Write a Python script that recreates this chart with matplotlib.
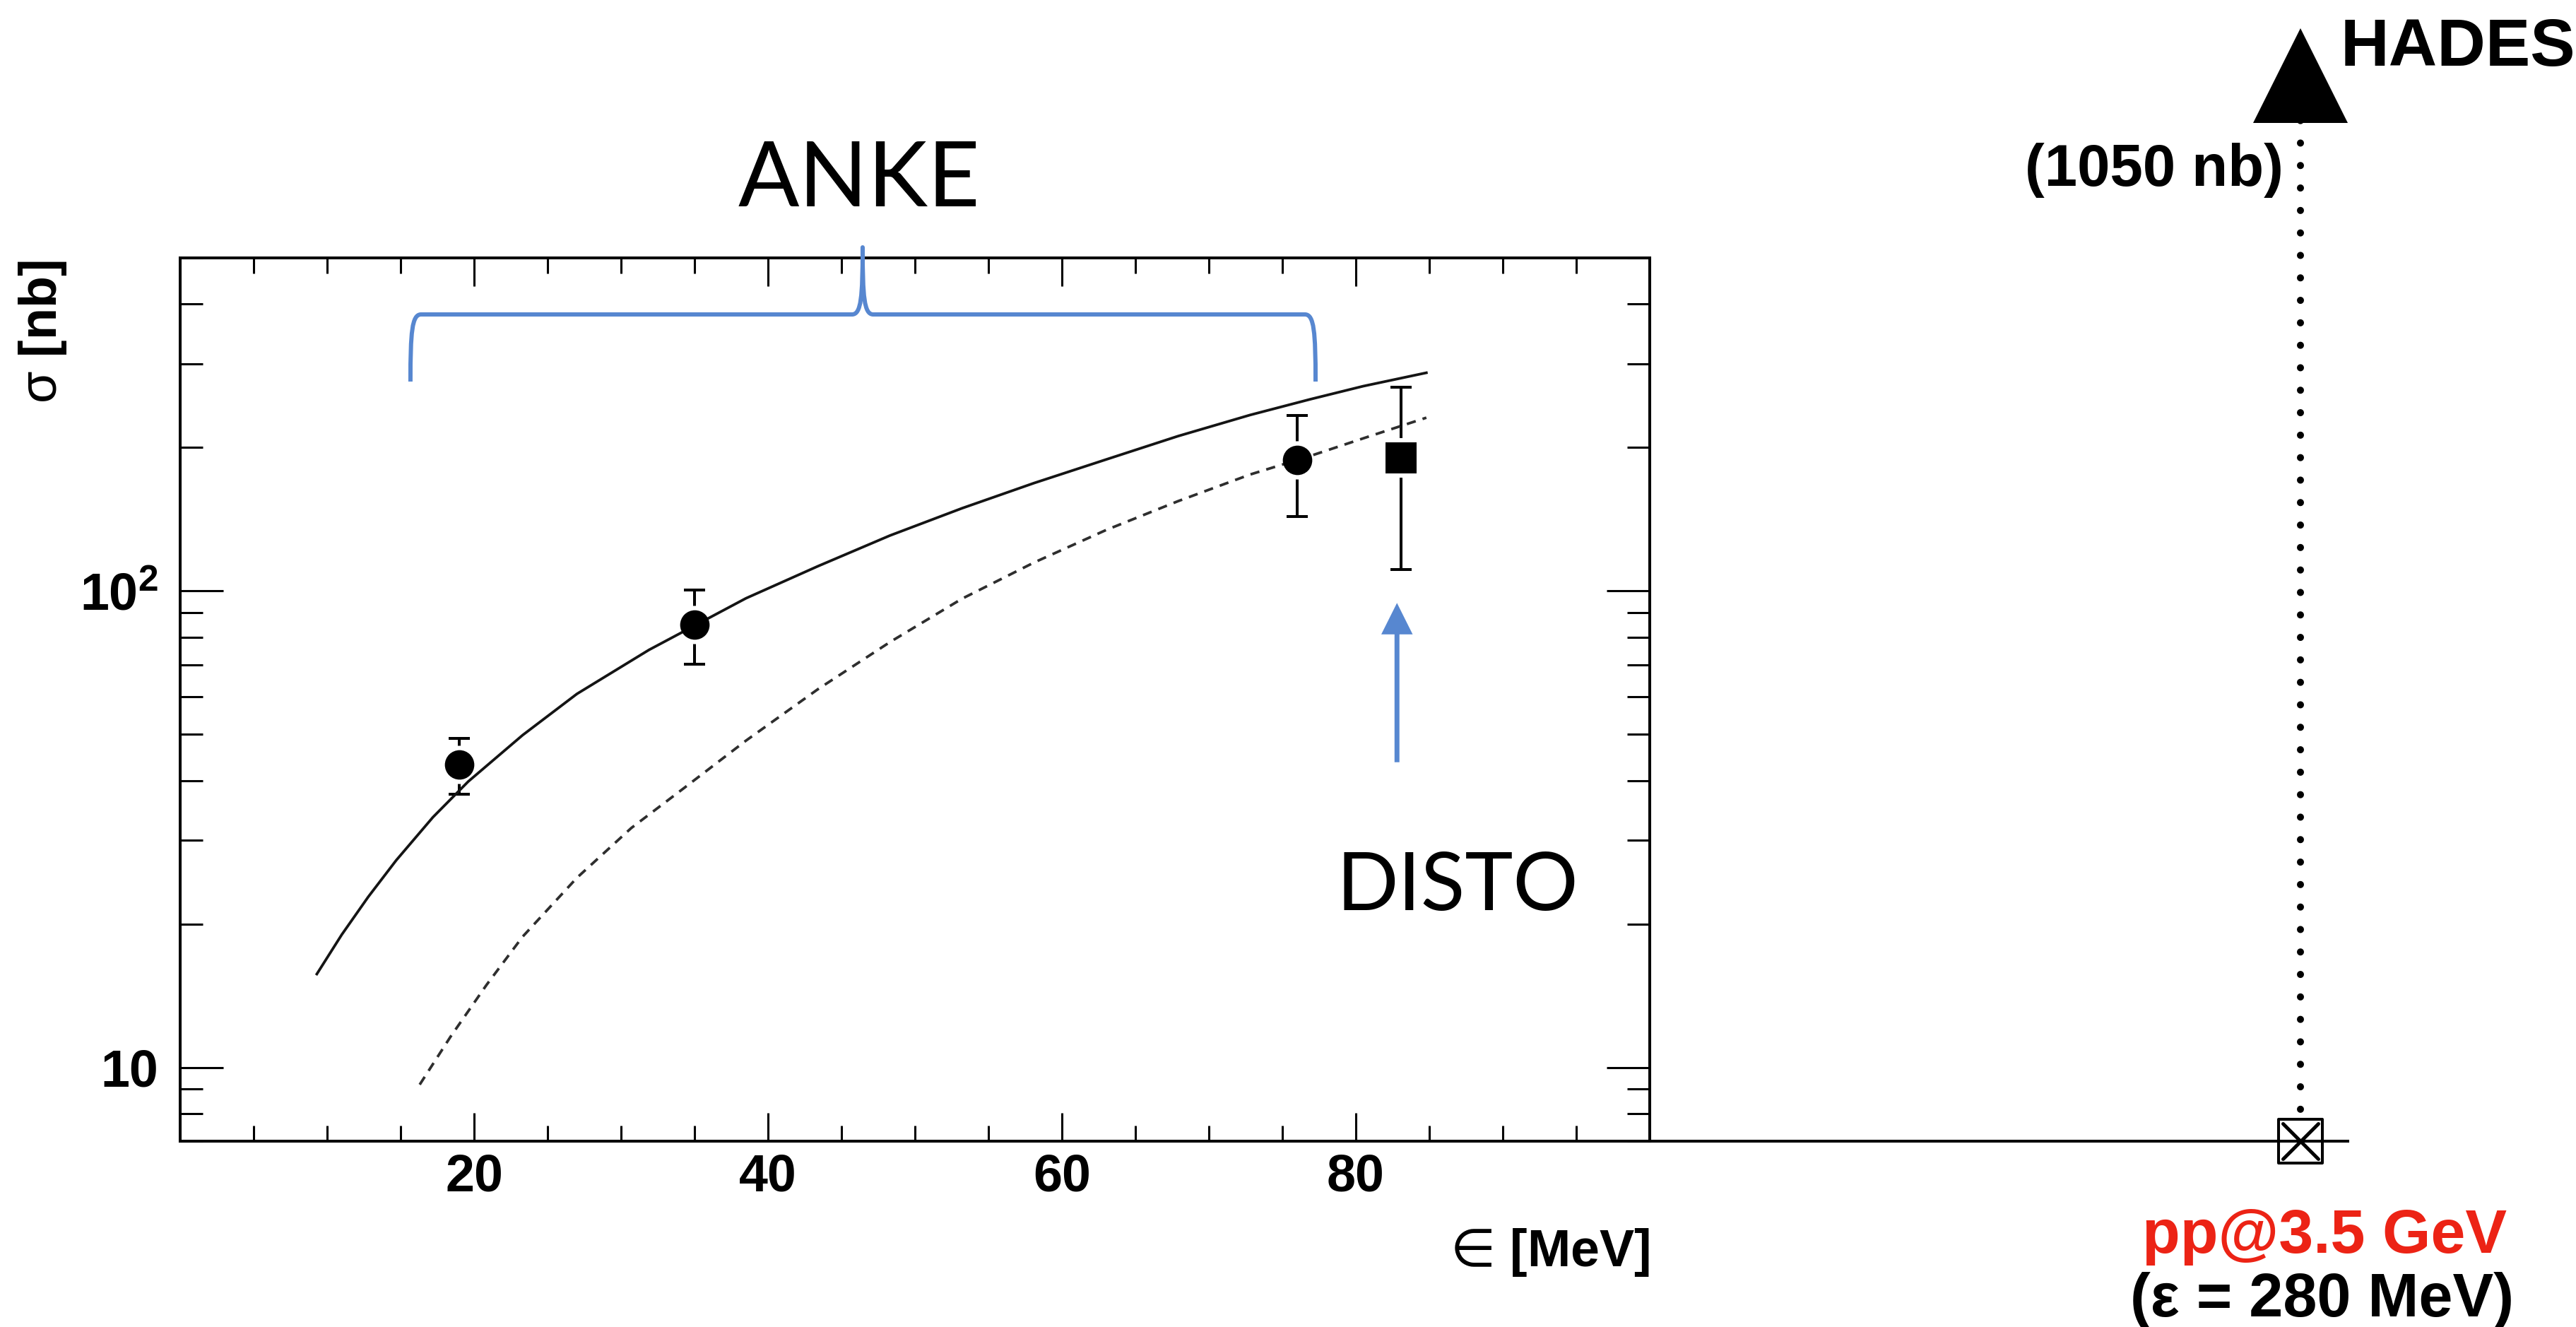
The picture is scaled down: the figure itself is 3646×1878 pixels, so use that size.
import matplotlib
matplotlib.use("Agg")
import matplotlib.pyplot as plt
from matplotlib.path import Path
from matplotlib.patches import PathPatch
from matplotlib.markers import MarkerStyle
from matplotlib.ticker import FixedLocator, FixedFormatter, NullFormatter

plt.rcParams['font.family'] = ['Liberation Sans', 'DejaVu Sans']
plt.rcParams['font.weight'] = 'bold'
plt.rcParams['axes.labelweight'] = 'bold'
plt.rcParams['mathtext.fontset'] = 'custom'
plt.rcParams['mathtext.rm'] = 'Liberation Sans:bold'
plt.rcParams['mathtext.it'] = 'Liberation Sans:bold'
plt.rcParams['mathtext.bf'] = 'Liberation Sans:bold'
plt.rcParams['mathtext.sf'] = 'Liberation Sans:normal'
plt.rcParams['mathtext.tt'] = 'DejaVu Sans:normal'

# ANKE data points (excess energy in MeV, cross section in nb)
anke_eps = [19, 35, 76]
anke_sigma = [43.2, 84.9, 188.0]
anke_err_lo = [5.7, 14.8, 44.9]
anke_err_hi = [5.9, 15.4, 45.7]

# DISTO point
disto_eps = [83.1]
disto_sigma = [190.0]
disto_err_lo = [79.0]
disto_err_hi = [78.0]

# full calculation (solid)
fit_eps = [9.3, 11.0, 12.8, 14.7, 17.2, 19.6, 23.3, 27.0, 31.9, 38.5,
           43.4, 48.3, 53.2, 58.1, 63.0, 67.9, 72.8, 76.9, 80.5, 84.8]
fit_sigma = [15.7, 19.0, 22.8, 27.2, 33.5, 39.8, 49.8, 60.8, 75.2, 96.5,
             112.7, 130.7, 149.1, 168.4, 188.7, 211.3, 234.0, 252.5, 269.0, 287.0]

# phase space (dashed)
ps_eps = [16.3, 18.4, 20.85, 23.3, 27.0, 30.7, 34.3, 38.5, 43.4, 48.3,
          53.2, 58.1, 63.0, 67.9, 72.8, 76.9, 80.9, 84.8]
ps_sigma = [9.2, 11.6, 14.9, 18.8, 25.0, 31.8, 38.6, 48.5, 62.2, 78.1,
            96.3, 114.7, 134.2, 154.3, 175.5, 192.0, 211.0, 231.0]

# HADES point at pp@3.5 GeV
hades_eps = [280]
hades_sigma = [1050]

x_major = [20, 40, 60, 80]
x_minor = [5, 10, 15, 25, 30, 35, 45, 50, 55, 65, 70, 75, 85, 90, 95]
y_major = [10, 100]
y_major_labels = ['10', '$10^{2}$']
y_minor = [7, 8, 9, 20, 30, 40, 50, 60, 70, 80, 90, 200, 300, 400, 500]

blue = '#5787D0'
red = '#EC2315'

W, H = 3646, 1878
fig = plt.figure(figsize=(W / 100, H / 100), dpi=100)
ax = fig.add_axes([255 / W, 263 / H, 2080 / W, 1250 / H])
ax.set_yscale('log')
ax.set_xlim(0, 100)
ax.set_ylim(7, 500)

for sp in ax.spines.values():
    sp.set_linewidth(2.9)

ax.xaxis.set_major_locator(FixedLocator(x_major))
ax.xaxis.set_minor_locator(FixedLocator(x_minor))
ax.yaxis.set_major_locator(FixedLocator(y_major))
ax.yaxis.set_major_formatter(FixedFormatter(y_major_labels))
ax.yaxis.set_minor_locator(FixedLocator(y_minor))
ax.yaxis.set_minor_formatter(NullFormatter())
ax.tick_params(axis='x', which='both', direction='in', top=True, width=2.2,
               labelsize=53, pad=12)
ax.tick_params(axis='x', which='major', length=29)
ax.tick_params(axis='x', which='minor', length=16)
ax.tick_params(axis='y', which='both', direction='in', right=True, width=2.2,
               labelsize=53, pad=22)
ax.tick_params(axis='y', which='major', length=44)
ax.tick_params(axis='y', which='minor', length=23)

ax.set_xlabel(r'$\mathtt{∈}$ [MeV]', loc='right', fontsize=53, fontweight='bold')
ax.xaxis.set_label_coords(1.0, -0.1416)
ax.xaxis.label.set_va('baseline')
ax.set_ylabel(r'$\mathsf{σ}$ [nb]', loc='top', fontsize=53, fontweight='bold')
ax.yaxis.set_label_coords(-0.0933, 0.9976)
ax.yaxis.label.set_va('center')

# error bars with a white gap around the markers
ax.errorbar(anke_eps, anke_sigma, yerr=[anke_err_lo, anke_err_hi], fmt='none',
            ecolor='black', elinewidth=2.9, capsize=10.8, capthick=2.9, zorder=2)
ax.errorbar(disto_eps, disto_sigma, yerr=[disto_err_lo, disto_err_hi], fmt='none',
            ecolor='black', elinewidth=2.9, capsize=10.8, capthick=2.9, zorder=2)
ax.plot(anke_eps, anke_sigma, 'o', ms=39, color='white', mew=0, zorder=2.6)
ax.plot(disto_eps, disto_sigma, 's', ms=40, color='white', mew=0, zorder=2.6)

ax.plot(fit_eps, fit_sigma, color='#141414', lw=2.7, zorder=3,
        solid_joinstyle='round')
ax.plot(ps_eps, ps_sigma, color='#2e2e2e', lw=2.7, dashes=(3.5, 2.7), zorder=3)

ax.plot(anke_eps, anke_sigma, 'o', ms=30, color='black', mew=0, zorder=4)
ax.plot(disto_eps, disto_sigma, 's', ms=31, color='black', mew=0, zorder=4)

# curly brace over the ANKE range
bl, bm, br = 15.67, 46.44, 77.26
dx = 0.72
yb, yc, yh, yk, yt = 0.86, 0.916, 0.936, 0.956, 1.012
verts = [(bl, yb), (bl, yc), (bl + 0.1, yh), (bl + dx, yh),
         (bm - dx, yh),
         (bm - 0.1, yh), (bm, yk), (bm, yt),
         (bm, yk), (bm + 0.1, yh), (bm + dx, yh),
         (br - dx, yh),
         (br - 0.1, yh), (br, yc), (br, yb)]
codes = [Path.MOVETO, Path.CURVE4, Path.CURVE4, Path.CURVE4,
         Path.LINETO,
         Path.CURVE4, Path.CURVE4, Path.CURVE4,
         Path.CURVE4, Path.CURVE4, Path.CURVE4,
         Path.LINETO,
         Path.CURVE4, Path.CURVE4, Path.CURVE4]
brace = PathPatch(Path(verts, codes), transform=ax.get_xaxis_transform(),
                  fill=False, edgecolor=blue, lw=4.3, clip_on=False,
                  capstyle='butt', joinstyle='round', zorder=5)
ax.add_patch(brace)

ax.text(46.2, 1.0584, 'ANKE', transform=ax.get_xaxis_transform(), ha='center',
        va='baseline', fontsize=92, family='Lato', fontweight='normal')
ax.text(86.9, 0.2616, 'DISTO', transform=ax.get_xaxis_transform(), ha='center',
        va='baseline', fontsize=83, family='Lato', fontweight='normal')
ax.annotate('', xy=(82.8, 94.35), xytext=(82.8, 43.7),
            arrowprops=dict(width=5, headwidth=32, headlength=32,
                            color=blue, lw=0))

# broken axis continuation out to the HADES energy
ax2 = fig.add_axes([2335 / W, 263 / H, 988 / W, 1615 / H])
ax2.set_yscale('log')
ax2.set_xlim(100, 293.1)
ax2.set_ylim(7, 1500)
ax2.patch.set_visible(False)
for side in ['top', 'left', 'right']:
    ax2.spines[side].set_visible(False)
ax2.spines['bottom'].set_linewidth(2.9)
ax2.set_xticks([])
ax2.set_yticks([])
ax2.yaxis.set_minor_locator(FixedLocator([]))

ylo = ax2.get_ylim()[0]
ax2.plot([hades_eps[0], hades_eps[0]], [hades_sigma[0], ylo], color='black',
         lw=7.2, dashes=(0.01, 3.17), dash_capstyle='round', zorder=1,
         clip_on=False)
ax2.plot(hades_eps, hades_sigma, marker='^', ms=97, color='black', mew=0,
         clip_on=False, zorder=5)
ax2.plot(hades_eps, [ylo], marker=MarkerStyle('s', joinstyle='round'), ms=44,
         mfc='white', mec='black', mew=2.9, clip_on=False, zorder=2)
ax2.plot(hades_eps, [ylo], marker=MarkerStyle('x', capstyle='round'), ms=36,
         mec='black', mew=3.6, clip_on=False, zorder=4)

ax2.annotate('HADES', xy=(hades_eps[0], hades_sigma[0]), xytext=(57, 14),
             textcoords='offset pixels', ha='left', va='baseline',
             fontsize=68.4, annotation_clip=False)
ax2.annotate('(1050 nb)', xy=(hades_eps[0], hades_sigma[0]), xytext=(-24, -156),
             textcoords='offset pixels', ha='right', va='baseline',
             fontsize=60, annotation_clip=False)
ax2.annotate('pp@3.5 GeV', xy=(hades_eps[0], ylo), xytext=(34, -158),
             textcoords='offset pixels', ha='center', va='baseline',
             fontsize=63.4, color=red, annotation_clip=False)
ax2.annotate('(ε = 280 MeV)', xy=(hades_eps[0], ylo), xytext=(31, -248),
             textcoords='offset pixels', ha='center', va='baseline',
             fontsize=62.3, annotation_clip=False)

fig.savefig('out.png', dpi=100)
